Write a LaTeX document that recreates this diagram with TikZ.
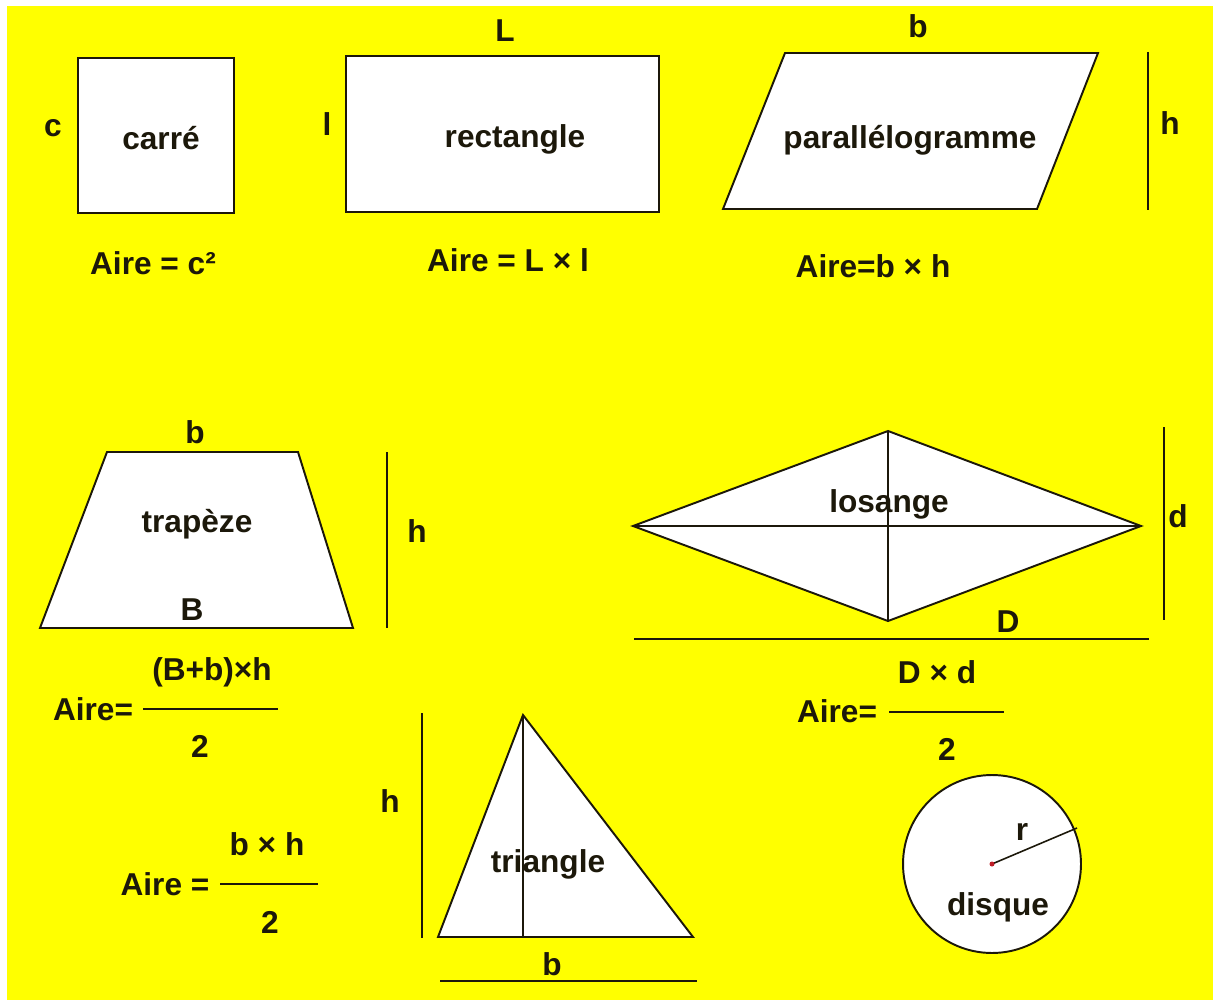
\documentclass[tikz,border=0pt]{standalone}
\usepackage{fontspec}
\setmainfont{Liberation Sans}
\usepackage{tikz}
\usetikzlibrary{positioning}
\definecolor{pageyellow}{RGB}{255,255,0}
\definecolor{inkdark}{RGB}{28,24,10}
\definecolor{dotred}{RGB}{190,30,40}

\begin{document}
\begin{tikzpicture}[x=0.02cm, y=-0.02cm, every node/.style={font=\fontsize{18}{20}\selectfont\bfseries, text=inkdark, inner sep=0pt, anchor=base}]
  \tikzstyle{figure}=[draw=inkdark, fill=white, line width=1.1pt, line join=miter]
  \tikzstyle{guide}=[draw=inkdark, line width=1.1pt]
  \useasboundingbox (0,0) rectangle (1213,1003);
  \fill[white] (0,0) rectangle (1213,1003);
  \fill[pageyellow] (7,6) rectangle (1213,1000);

  % carre
  \draw[figure] (78,58) rectangle (234,213);
  \node (carre) at (161,150) {carré};
  \node (cside) at (53,137) {c};
  \node (carreaire) at (153,275) {Aire = c²};

  % rectangle
  \draw[figure] (346,56) rectangle (659,212);
  \node (rect) at (515,148) {rectangle};
  \node (rlong) at (505,42) {L};
  \node (rlarge) at (327,136) {l};
  \node (rectaire) at (508,272) {Aire = L × l};

  % parallelogramme
  \draw[figure] (785,53) -- (1098,53) -- (1037,209) -- (723,209) -- cycle;
  \coordinate (ph1) at (1148,52);
  \coordinate (ph2) at (1148,210);
  \draw[guide] (ph1) -- (ph2);
  \node (para) at (910,149) {parallélogramme};
  \node (pbase) at (918,38) {b};
  \node (phaut) at (1170,135) {h};
  \node (paraaire) at (873,278) {Aire=b × h};

  % trapeze
  \draw[figure] (107,452) -- (298,452) -- (353,628) -- (40,628) -- cycle;
  \coordinate (th1) at (387,452);
  \coordinate (th2) at (387,628);
  \draw[guide] (th1) -- (th2);
  \node (trap) at (197,532) {trapèze};
  \node (tpetite) at (195,443) {b};
  \node (tgrande) at (192,620) {B};
  \node (thaut) at (417,542) {h};
  \coordinate (tf1) at (143,709);
  \coordinate (tf2) at (278,709);
  \draw[guide] (tf1) -- (tf2);
  \node (trapnum) at (212,680) {(B+b)×h};
  \node (trapden) at (200,757) {2};
  \node (trapaire) at (93,720) {Aire=};

  % losange
  \coordinate (lw) at (633,526);
  \coordinate (ln) at (888,431);
  \coordinate (le) at (1141,526);
  \coordinate (ls) at (888,621);
  \draw[figure] (lw) -- (ln) -- (le) -- (ls) -- cycle;
  \draw[guide] (lw) -- (le);
  \draw[guide] (ln) -- (ls);
  \coordinate (ld1) at (1164,427);
  \coordinate (ld2) at (1164,620);
  \draw[guide] (ld1) -- (ld2);
  \coordinate (lD1) at (634,639);
  \coordinate (lD2) at (1149,639);
  \draw[guide] (lD1) -- (lD2);
  \node (los) at (889,512) {losange};
  \node (lpetite) at (1178,527) {d};
  \node (lgrande) at (1008,632) {D};
  \coordinate (lf1) at (889,712);
  \coordinate (lf2) at (1004,712);
  \draw[guide] (lf1) -- (lf2);
  \node (losnum) at (937,683) {D × d};
  \node (losden) at (947,760) {2};
  \node (losaire) at (837,722) {Aire=};

  % triangle
  \coordinate (ta) at (523,715);
  \coordinate (tb) at (438,937);
  \coordinate (tc) at (693,937);
  \coordinate (tp) at (523,937);
  \draw[figure] (ta) -- (tb) -- (tc) -- cycle;
  \draw[guide] (ta) -- (tp);
  \coordinate (gh1) at (422,713);
  \coordinate (gh2) at (422,938);
  \draw[guide] (gh1) -- (gh2);
  \coordinate (gb1) at (440,981);
  \coordinate (gb2) at (697,981);
  \draw[guide] (gb1) -- (gb2);
  \node (tri) at (548,872) {triangle};
  \node (trihaut) at (390,812) {h};
  \node (tribase) at (552,975) {b};
  \coordinate (gf1) at (220,884);
  \coordinate (gf2) at (318,884);
  \draw[guide] (gf1) -- (gf2);
  \node (trinum) at (267,855) {b × h};
  \node (triden) at (270,933) {2};
  \node (triaire) at (165,895) {Aire =};

  % disque
  \coordinate (dc) at (992,864);
  \coordinate (dr) at (1077,828);
  \draw[figure] (dc) circle[radius=1.78cm];
  \draw[guide, line width=0.9pt] (dc) -- (dr);
  \fill[dotred] (dc) circle[radius=0.05cm];
  \node (drayon) at (1022,840) {r};
  \node (disq) at (998,915) {disque};
\end{tikzpicture}
\end{document}
